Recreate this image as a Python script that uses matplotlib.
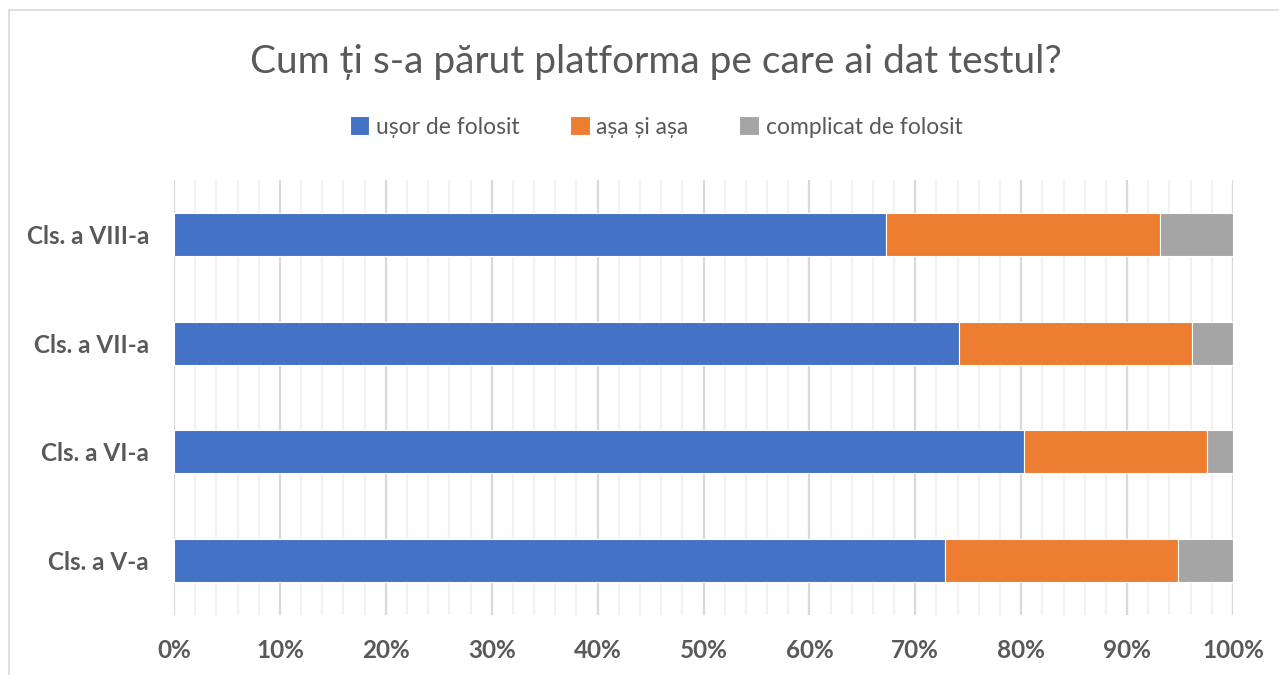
import matplotlib
matplotlib.use("Agg")
import matplotlib.pyplot as plt
from matplotlib.ticker import MultipleLocator, FuncFormatter
from matplotlib.patches import Rectangle

categories = ["Cls. a V-a", "Cls. a VI-a", "Cls. a VII-a", "Cls. a VIII-a"]
usor = [72.8, 80.3, 74.1, 67.2]
asa = [22.0, 17.2, 22.0, 25.9]
complicat = [5.2, 2.5, 3.9, 6.9]
series_names = ["ușor de folosit", "așa și așa", "complicat de folosit"]
colors = ["#4472C4", "#ED7D31", "#A5A5A5"]

plt.rcParams['font.family'] = ['Lato', 'DejaVu Sans']
W, H = 1279, 675
fig = plt.figure(figsize=(W/100, H/100), dpi=100)

# chart border
fig.patches.append(Rectangle((9/W, -0.05), 1.2, 1 - 10/H + 0.05, transform=fig.transFigure,
                             fill=False, edgecolor="#D9D9D9", linewidth=1.2))

ax = fig.add_axes([174/W, 1-615/H, (1233-174)/W, (615-180)/H])
y = list(range(len(categories)))
left = [0]*len(categories)
for vals, name, c in zip([usor, asa, complicat], series_names, colors):
    ax.barh(y, vals, left=left, height=0.395, color=c, label=name,
            edgecolor="white", linewidth=0.8, zorder=3)
    left = [l+v for l, v in zip(left, vals)]

ax.set_xlim(0, 100)
ax.set_ylim(-0.5, 3.5)
ax.set_yticks(y)
ax.set_yticklabels(categories)
ax.xaxis.set_major_locator(MultipleLocator(10))
ax.xaxis.set_minor_locator(MultipleLocator(2))
ax.xaxis.set_major_formatter(FuncFormatter(lambda v, p: f"{int(round(v))}%"))
ax.grid(axis='x', which='major', color="#D9D9D9", linewidth=1.6, zorder=0)
ax.grid(axis='x', which='minor', color="#F2F2F2", linewidth=1.6, zorder=0)
for s in ax.spines.values():
    s.set_visible(False)
ax.tick_params(axis='both', which='both', length=0)
ax.tick_params(axis='x', pad=17, labelsize=17.5, labelcolor="#595959")
ax.tick_params(axis='y', pad=18, labelsize=17.5, labelcolor="#595959")
for lab in ax.get_xticklabels() + ax.get_yticklabels():
    lab.set_fontweight('bold')

fig.text(656/W, 1-62/H, "Cum ți s-a părut platforma pe care ai dat testul?",
         ha='center', va='center', fontsize=28, color="#595959")
leg = fig.legend(loc='center', bbox_to_anchor=(656/W, 1-127/H), ncol=3, frameon=False,
                 fontsize=16.5, handlelength=0.85, handleheight=0.85, handletextpad=0.3,
                 columnspacing=2.2)
for t in leg.get_texts():
    t.set_color("#595959")

fig.savefig("out.png", dpi=100)
